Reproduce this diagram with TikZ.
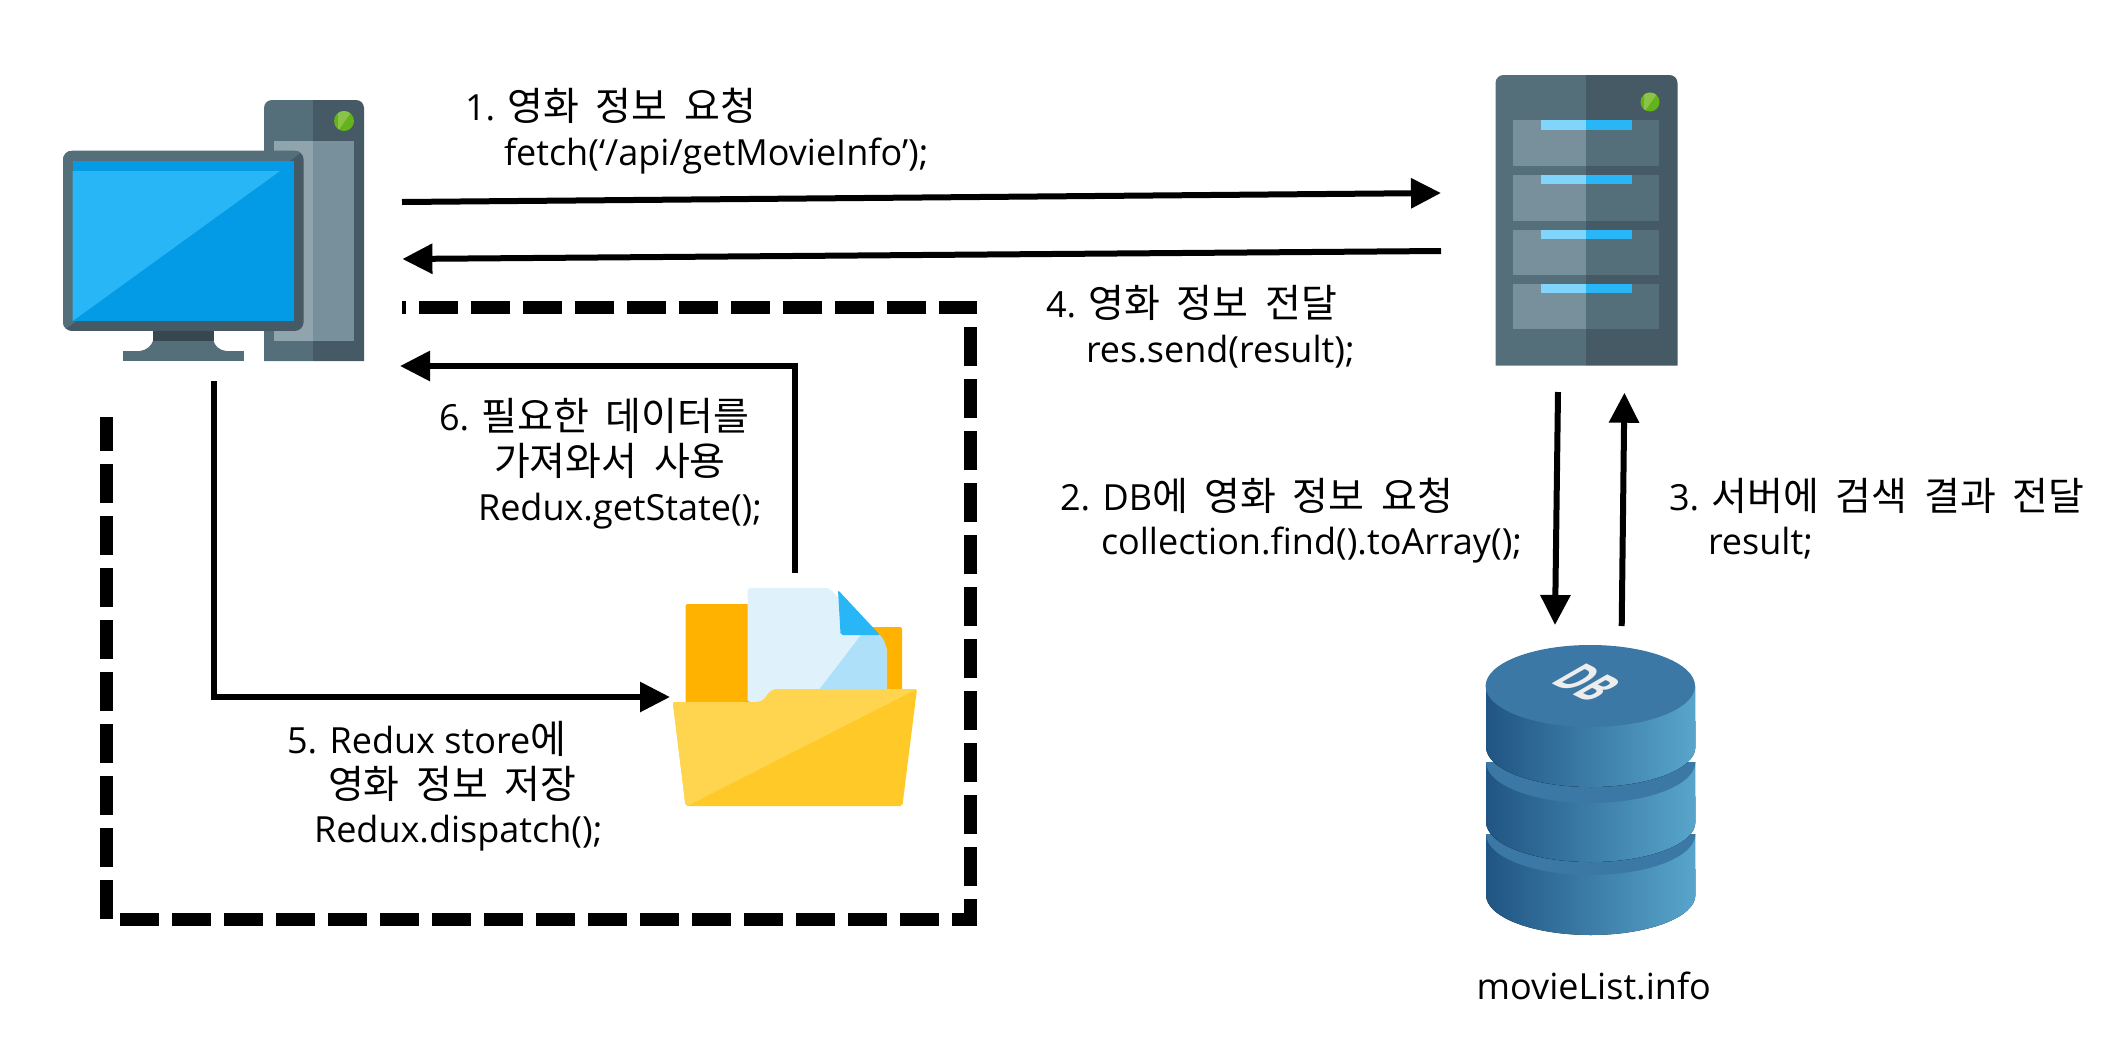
\documentclass[tikz,border=0pt]{standalone}
\usepackage{fontspec}
\setmainfont{Open Sans}[WordSpace=1.0]
\newfontfamily\ko{Noto Sans CJK KR}[Scale=1.083,WordSpace=1.9]
\usetikzlibrary{arrows.meta}
\definecolor{slateL}{HTML}{546E7A}
\definecolor{slateD}{HTML}{455A64}
\definecolor{slateX}{HTML}{37474F}
\definecolor{panL}{HTML}{90A4AE}
\definecolor{panM}{HTML}{78909C}
\definecolor{scrD}{HTML}{039BE5}
\definecolor{scrL}{HTML}{29B6F6}
\definecolor{stripL}{HTML}{81D4FA}
\definecolor{ledD}{HTML}{64B31A}
\definecolor{ledL}{HTML}{8BC34A}
\definecolor{orangeB}{HTML}{FFB300}
\definecolor{paperL}{HTML}{DFF1FB}
\definecolor{paperS}{HTML}{AEE0F9}
\definecolor{foldL}{HTML}{FFD54F}
\definecolor{foldD}{HTML}{FFCA28}
\definecolor{dbTop}{HTML}{3B78A6}
\definecolor{dbA}{HTML}{205583}
\definecolor{dbB}{HTML}{3C7BA8}
\definecolor{dbC}{HTML}{58A5CB}
\tikzset{
  arrowline/.style={line width=6pt,-{Triangle[length=30pt,width=29pt]}},
  dashline/.style={line width=12.7pt,dash pattern=on 39pt off 13pt},
  lbl/.style={inner sep=0pt,outer sep=0pt,align=left,anchor=base west,font=\fontsize{36}{44.6}\selectfont},
}
\newcommand{\dbsec}[2]{%
  \fill[left color=dbA,middle color=dbB,right color=dbC] (1486,#1) -- (1486,#2) arc[start angle=180,end angle=0,x radius=104.7,y radius=40] -- (1695,#1) -- cycle;
}
\begin{document}
\begin{tikzpicture}[x=1pt,y=-1pt]
\useasboundingbox (0,0) rectangle (2110,1050);
% --- PC tower
\fill[slateL] (264,361) -- (264,108) arc[start angle=180,end angle=270,radius=8] -- (313,100) -- (313,361) -- cycle;
\fill[slateD] (313,361) -- (313,100) -- (356,100) arc[start angle=270,end angle=360,radius=8] -- (364,361) -- cycle;
\fill[panL] (274,141) rectangle (313,341);
\fill[panM] (313,141) rectangle (354,341);
\begin{scope}
\clip (344,121) ellipse[x radius=10,y radius=10];
\fill[ledD] (334,111) rectangle (354,131);
\fill[ledL] (338,131) -- (354,108) -- (338,108) -- cycle;
\end{scope}
% --- monitor
\fill[slateX] (153,331) rectangle (213.6,341);
\fill[slateL] (153,341) .. controls (151,346) and (147,350) .. (140,351) -- (226,351) .. controls (219,350) and (215,346) .. (213.6,341) -- cycle;
\fill[slateL] (123,351) rectangle (243.6,361);
\begin{scope}
\clip[rounded corners=9pt] (63,150.7) rectangle (303.6,331);
\fill[slateD] (63,150.7) rectangle (303.6,331);
\fill[slateL] (63,331) -- (303.6,150.7) -- (63,150.7) -- cycle;
\end{scope}
\fill[scrD] (72.7,161) rectangle (294,321);
\fill[scrL] (72.7,321) -- (280,171) -- (72.7,171) -- cycle;
% --- server
\fill[slateL] (1495.5,365.7) -- (1495.5,83) arc[start angle=180,end angle=270,radius=8] -- (1586,75) -- (1586,365.7) -- cycle;
\fill[slateD] (1586,365.7) -- (1586,75) -- (1669.5,75) arc[start angle=270,end angle=360,radius=8] -- (1677.5,365.7) -- cycle;
\foreach \ya/\yb in {120.3/166,175/220.5,229.7/275,284/329.3}{
  \fill[panM] (1513,\ya) rectangle (1586,\yb);
  \fill[slateL] (1586,\ya) rectangle (1659,\yb);
  \fill[stripL] (1541,\ya) rectangle (1586,\ya+9.3);
  \fill[scrL] (1586,\ya) rectangle (1632,\ya+9.3);
}
\begin{scope}
\clip (1650,102) ellipse[x radius=9.5,y radius=9.5];
\fill[ledD] (1640,92) rectangle (1660,112);
\fill[ledL] (1644,112) -- (1660,90) -- (1644,90) -- cycle;
\end{scope}
% --- database
\dbsec{834}{895}
\fill[dbTop] (1486,834) arc[start angle=180,end angle=0,x radius=104.7,y radius=41] -- cycle;
\dbsec{762}{822}
\fill[dbTop] (1486,762) arc[start angle=180,end angle=0,x radius=104.7,y radius=41] -- cycle;
\dbsec{686}{747}
\fill[dbTop] (1590.3,686) ellipse[x radius=104.7,y radius=41];
\node[inner sep=0pt,font=\fontsize{56}{56}\selectfont\bfseries,text=black!7,cm={0.52,-0.26,0.866,0.5,(0,0)}] (dbmark) at (1587,683) {DB};
% --- folder
\fill[orangeB,rounded corners=2pt] (685.6,705) -- (685.6,604) -- (760,604) -- (760,705) -- cycle;
\fill[orangeB,rounded corners=2pt] (840,695) -- (840,627) -- (902,627) -- (902,695) -- cycle;
\fill[paperL,rounded corners=3pt] (747.5,702) -- (747.5,588) -- (829,588) -- (886.5,646) -- (886.5,702) -- cycle;
\fill[paperS] (861,635) -- (880,635) .. controls (884,640) and (886.5,644) .. (886.5,652) -- (886.5,695) -- (815,695) -- cycle;
\fill[scrL,rounded corners=2pt] (838,590) -- (840.6,635) -- (880,635) -- cycle;
\begin{scope}
\clip[rounded corners=2pt] (672.8,702) -- (755,702) .. controls (768,702) and (765,689) .. (781,689) -- (917,689) -- (902.4,806) -- (685.6,806) -- cycle;
\fill[foldD] (660,680) rectangle (925,810);
\fill[foldL] (660,680) -- (917,689) -- (687,806) -- (660,806) -- cycle;
\fill[foldL] (660,680) rectangle (917,689);
\end{scope}
% --- anchors for connectors
\coordinate (pcOutTop) at (402,202);
\coordinate (srvInTop) at (1441,193);
\coordinate (srvOutBot) at (1441,251);
\coordinate (pcInBot) at (402.4,259);
\coordinate (srvDownS) at (1558,392);
\coordinate (dbInTop) at (1555,625);
\coordinate (dbOutTop) at (1621.7,626);
\coordinate (srvUpE) at (1624.4,392.7);
\coordinate (pcDownS) at (213.6,381);
\coordinate (storeIn) at (670,697);
\coordinate (storeOut) at (794.6,572.7);
\coordinate (pcInLow) at (400,366);
% --- arrows
\draw[arrowline] (pcOutTop) -- (srvInTop);
\draw[arrowline] (srvOutBot) -- (pcInBot);
\draw[arrowline] (srvDownS) -- (dbInTop);
\draw[arrowline] (dbOutTop) -- (srvUpE);
\draw[arrowline] (pcDownS) |- (storeIn);
\draw[arrowline] (storeOut) |- (pcInLow);
% --- dashed boundary
\coordinate (bTL) at (402,307.7);
\coordinate (bTR) at (977,307.7);
\coordinate (bRT) at (970.7,301);
\coordinate (bRB) at (970.7,913);
\coordinate (bBL) at (120,919.5);
\coordinate (bBR) at (977,919.5);
\coordinate (bLT) at (106.5,417);
\coordinate (bLB) at (106.5,919);
\draw[dashline,dash phase=35pt] (bTL) -- (bTR);
\draw[dashline,dash phase=26pt] (bRT) -- (bRB);
\draw[dashline] (bBL) -- (bBR);
\draw[dashline,dash phase=5pt] (bLT) -- (bLB);
% --- labels
\node[lbl] (t1) at (465,165) {1. {\ko 영화 정보 요청}\\\hspace*{39pt}fetch(‘/api/getMovieInfo’);};
\node[lbl] (t4) at (1046,362) {4. {\ko 영화 정보 전달}\\\hspace*{40pt}res.send(result);};
\node[lbl] (t2) at (1060,554.6) {2. DB{\ko 에 영화 정보 요청}\\\hspace*{41pt}collection.find().toArray();};
\node[lbl] (t3) at (1669,554.6) {3. {\ko 서버에 검색 결과 전달}\\\hspace*{39pt}result;};
\node[lbl] (t5) at (287,842.7) {5. Redux store{\ko 에}\\\hspace*{41pt}{\ko 영화 정보 저장}\\\hspace*{27pt}Redux.dispatch();};
\node[lbl] (t6) at (439,520) {6. {\ko 필요한 데이터를}\\\hspace*{55pt}{\ko 가져와서 사용}\\\hspace*{39pt}Redux.getState();};
\node[lbl] (tdb) at (1476.7,999) {movieList.info};
\end{tikzpicture}
\end{document}
